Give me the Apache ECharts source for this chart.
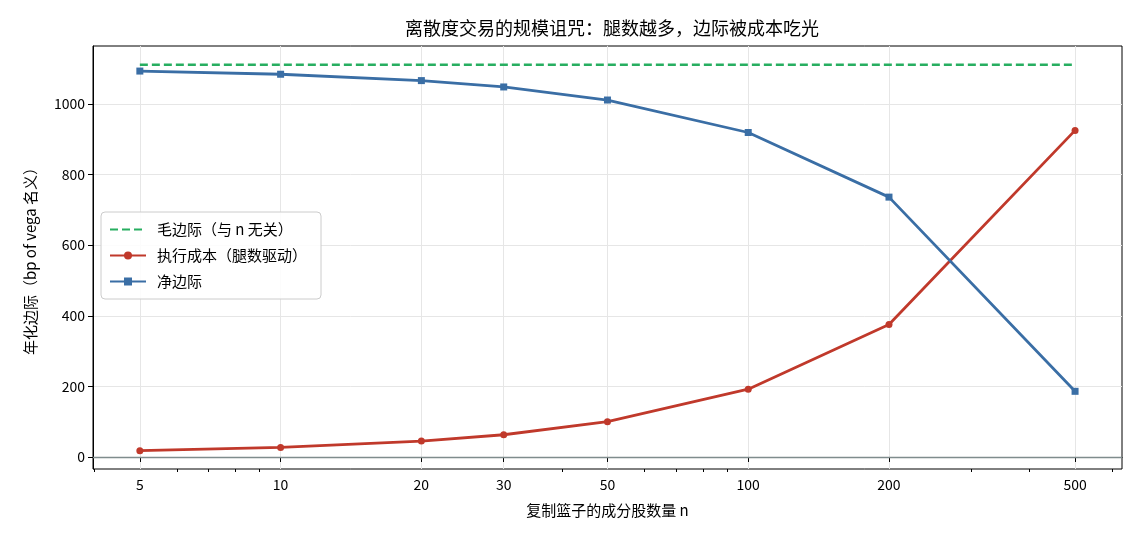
<!DOCTYPE html>
<html>
<head>
<meta charset="utf-8">
<script src="https://cdn.jsdelivr.net/npm/echarts@6.0.0/dist/echarts.min.js"></script>
<style>
  html, body { margin: 0; padding: 0; background: #fff; }
  #main { width: 1140px; height: 540px; }
</style>
</head>
<body>
<div id="main"></div>
<script>
// 成分股数量 n
var legs = [5, 10, 20, 30, 50, 100, 200, 500];
// 毛边际（与 n 无关）
var grossMargin = [1111, 1111, 1111, 1111, 1111, 1111, 1111, 1111];
// 执行成本（腿数驱动）
var execCost = [18, 27, 45, 63, 100, 192, 375, 925];
// 净边际
var netMargin = [1093, 1084, 1066, 1048, 1011, 919, 736, 186];
// 刻度
var xTicks = [5, 10, 20, 30, 50, 100, 200, 500];
var xMinorTicks = [4, 6, 7, 8, 9, 40, 60, 70, 80, 90, 300, 400, 600];
var yTicks = [0, 200, 400, 600, 800, 1000];

var FONT = '"Noto Sans CJK SC", "DejaVu Sans", sans-serif';

function pairs(xs, ys) {
  return xs.map(function (x, i) { return [x, ys[i]]; });
}

var chart = echarts.init(document.getElementById('main'), null, { renderer: 'canvas' });

var option = {
  backgroundColor: '#fff',
  textStyle: { fontFamily: FONT },
  animation: false,
  title: {
    text: '离散度交易的规模诅咒：腿数越多，边际被成本吃光',
    left: 607,
    top: 14,
    textAlign: 'center',
    textStyle: { fontFamily: FONT, fontSize: 18, fontWeight: 'normal', color: '#000' }
  },
  grid: {
    left: 93, right: 18, top: 46, bottom: 71,
    show: true, borderColor: '#000', borderWidth: 1, backgroundColor: 'transparent'
  },
  legend: {
    orient: 'vertical',
    left: 101,
    top: 212,
    itemWidth: 36,
    itemHeight: 10,
    itemGap: 11,
    padding: [10, 14, 10, 8],
    backgroundColor: 'rgba(255,255,255,0.85)',
    borderColor: '#cccccc',
    borderWidth: 1,
    borderRadius: 4,
    textStyle: { fontFamily: FONT, fontSize: 15, color: '#000', padding: [0, 0, 0, 6] },
    data: [
      { name: '毛边际（与 n 无关）', itemStyle: { opacity: 0 } },
      '执行成本（腿数驱动）',
      '净边际'
    ]
  },
  xAxis: [{
    type: 'log',
    min: 3.97,
    max: 630,
    name: '复制篮子的成分股数量 n',
    nameLocation: 'middle',
    nameGap: 34,
    nameTextStyle: { fontFamily: FONT, fontSize: 15, color: '#000' },
    axisLine: { show: true, lineStyle: { color: '#000', width: 1 } },
    axisTick: { show: true, length: 5, customValues: xTicks, lineStyle: { color: '#000' } },
    axisLabel: { customValues: xTicks, fontSize: 14, color: '#000', margin: 9, fontFamily: FONT },
    splitLine: { show: true, lineStyle: { color: '#e6e6e6', width: 1 } }
  }, {
    type: 'log',
    min: 3.97,
    max: 630,
    position: 'bottom',
    axisLine: { show: false },
    axisTick: { show: true, length: 3, customValues: xMinorTicks, lineStyle: { color: '#000' } },
    axisLabel: { show: false },
    splitLine: { show: false }
  }],
  yAxis: {
    type: 'value',
    min: -34,
    max: 1164,
    name: '年化边际（bp of vega 名义）',
    nameLocation: 'middle',
    nameGap: 55,
    nameTextStyle: { fontFamily: FONT, fontSize: 15, color: '#000' },
    axisLine: { show: true, lineStyle: { color: '#000', width: 1 } },
    axisTick: { show: true, length: 5, customValues: yTicks, lineStyle: { color: '#000' } },
    axisLabel: {
      customValues: yTicks, fontSize: 14, color: '#000', margin: 8, fontFamily: FONT,
      formatter: function (v) { return String(v); }
    },
    splitLine: { show: true, lineStyle: { color: '#e6e6e6', width: 1 } }
  },
  series: [{
    name: '毛边际（与 n 无关）',
    type: 'line',
    data: pairs(legs, grossMargin),
    symbol: 'none',
    lineStyle: { color: '#27ae60', width: 2.4, type: [8, 4] },
    itemStyle: { color: '#27ae60' },
    z: 3,
    markLine: {
      silent: true,
      symbol: 'none',
      label: { show: false },
      lineStyle: { color: '#7f8c8d', width: 1.3, type: 'solid' },
      data: [{ yAxis: 0 }]
    }
  }, {
    name: '执行成本（腿数驱动）',
    type: 'line',
    data: pairs(legs, execCost),
    symbol: 'circle',
    symbolSize: 7,
    lineStyle: { color: '#c0392b', width: 2.8 },
    itemStyle: { color: '#c0392b' },
    z: 4
  }, {
    name: '净边际',
    type: 'line',
    data: pairs(legs, netMargin),
    symbol: 'rect',
    symbolSize: 7,
    lineStyle: { color: '#3a6ea5', width: 2.8 },
    itemStyle: { color: '#3a6ea5' },
    z: 5
  }]
};

chart.setOption(option);
</script>
</body>
</html>
